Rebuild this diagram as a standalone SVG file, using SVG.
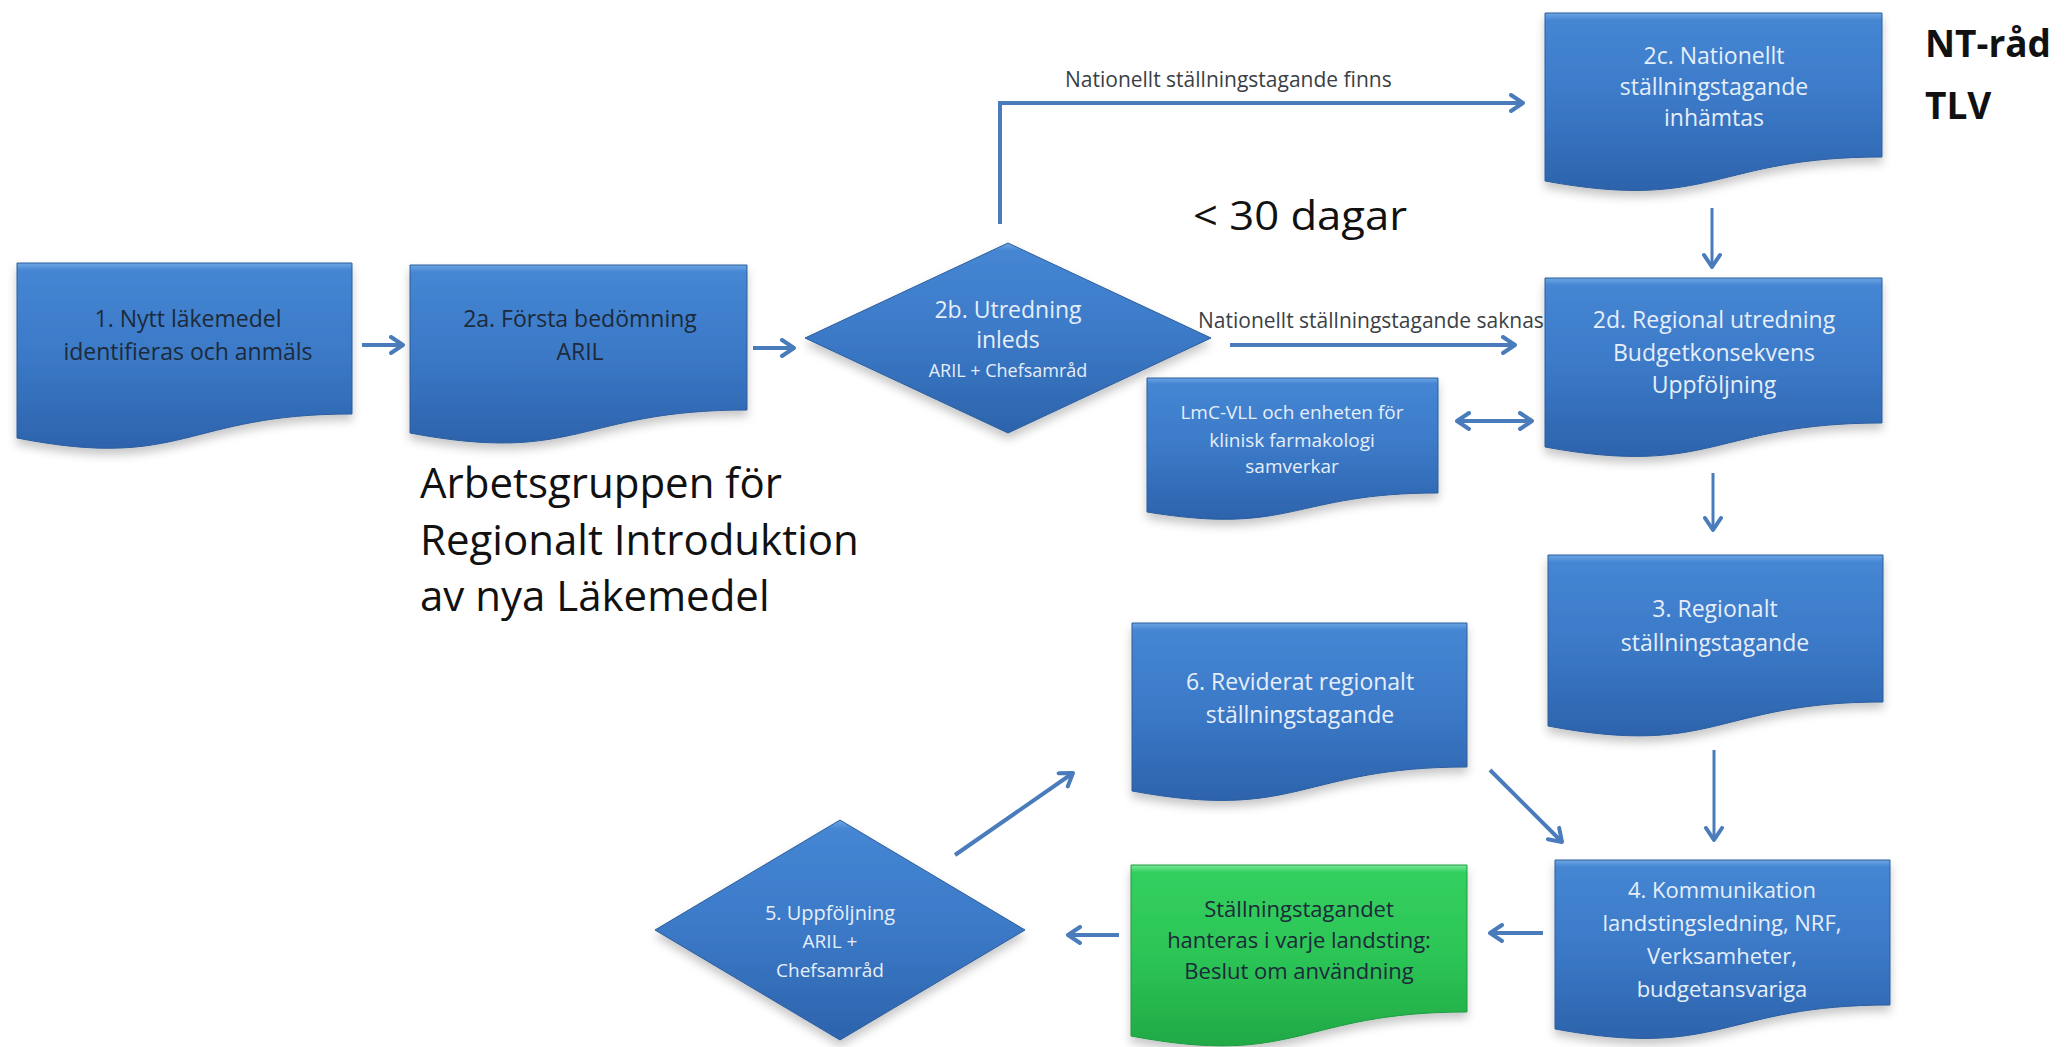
<svg xmlns="http://www.w3.org/2000/svg" width="2065" height="1047" viewBox="0 0 2065 1047">
<defs>
  <linearGradient id="gBlue" x1="0" y1="0" x2="0" y2="1">
    <stop offset="0" stop-color="#6fa6e4"/>
    <stop offset="0.04" stop-color="#4586d3"/>
    <stop offset="0.5" stop-color="#3b79c7"/>
    <stop offset="1" stop-color="#2d63ac"/>
  </linearGradient>
  <linearGradient id="gGreen" x1="0" y1="0" x2="0" y2="1">
    <stop offset="0" stop-color="#7be89c"/>
    <stop offset="0.04" stop-color="#33cf5f"/>
    <stop offset="0.5" stop-color="#2cc556"/>
    <stop offset="1" stop-color="#21a946"/>
  </linearGradient>
  <filter id="sh" x="-10%" y="-10%" width="120%" height="130%">
    <feDropShadow dx="0" dy="6" stdDeviation="5" flood-color="#000" flood-opacity="0.22"/>
  </filter>
  <marker id="ah" viewBox="0 0 20 20" refX="17" refY="10" markerWidth="20" markerHeight="20" markerUnits="userSpaceOnUse" orient="auto-start-reverse">
    <path d="M5,2 L17,10 L5,18" fill="none" stroke="#4a7cbc" stroke-width="4" stroke-linecap="round" stroke-linejoin="round"/>
  </marker>
  <style>
    .doc{fill:url(#gBlue);stroke:#2c5d9c;stroke-width:1;filter:url(#sh)}
    .docg{fill:url(#gGreen);stroke:#1f9a40;stroke-width:1;filter:url(#sh)}
    .lt{font-family:"Open Sans","Liberation Sans",sans-serif;fill:#e6eef9;text-anchor:middle}
    .dk{font-family:"Open Sans","Liberation Sans",sans-serif;fill:#1c2a3a;text-anchor:middle}
    .lbl{font-family:"Open Sans","Liberation Sans",sans-serif;fill:#3a3f46;font-size:21px}
    .big{font-family:"Open Sans","Liberation Sans",sans-serif;fill:#111;font-size:42px}
    .bold{font-family:"Open Sans","Liberation Sans",sans-serif;fill:#111;font-size:37px;font-weight:bold}
    .con{fill:none;stroke:#4a7cbc;stroke-width:4;marker-end:url(#ah)}
  </style>
</defs>
<rect width="2065" height="1047" fill="#ffffff"/>

<g id="connectors">
  <line class="con" x1="362" y1="345" x2="403" y2="345"/>
  <line class="con" x1="753" y1="348" x2="794" y2="348"/>
  <polyline class="con" points="1000,224 1000,103 1523,103"/>
  <line class="con" x1="1230" y1="345" x2="1515" y2="345"/>
  <line class="con" x1="1457" y1="421" x2="1532" y2="421" style="marker-start:url(#ah)"/>
  <line class="con" x1="1712" y1="208" x2="1712" y2="267" style="stroke-width:3"/>
  <line class="con" x1="1713" y1="473" x2="1713" y2="530" style="stroke-width:3"/>
  <line class="con" x1="1714" y1="750" x2="1714" y2="840" style="stroke-width:3"/>
  <line class="con" x1="1490" y1="770" x2="1562" y2="842"/>
  <line class="con" x1="1543" y1="933" x2="1490" y2="933"/>
  <line class="con" x1="1119" y1="935" x2="1068" y2="935"/>
  <line class="con" x1="955" y1="855" x2="1073" y2="773"/>
</g>

<g id="n1">
  <path class="doc" d="M17,263 H352 V414 C184.5,414 184.5,471 17,438 Z"/>
  <text class="dk" font-size="23"><tspan x="188" y="327">1. Nytt  läkemedel</tspan><tspan x="188" y="360">identifieras och anmäls</tspan></text>
</g>
<g id="n2a">
  <path class="doc" d="M410,265 H747 V410 C578.5,410 578.5,465 410,433 Z"/>
  <text class="dk" font-size="23"><tspan x="580" y="327">2a. Första bedömning</tspan><tspan x="580" y="360">ARIL</tspan></text>
</g>
<g id="n2b">
  <polygon class="doc" points="1008,243 1211,338 1008,433 805,338"/>
  <text class="lt" font-size="23"><tspan x="1008" y="318">2b. Utredning</tspan><tspan x="1008" y="348">inleds</tspan></text>
  <text class="lt" font-size="18" x="1008" y="377">ARIL + Chefsamråd</text>
</g>
<g id="n2c">
  <path class="doc" d="M1545,13 H1882 V157 C1713.5,157 1713.5,212 1545,181 Z"/>
  <text class="lt" font-size="23"><tspan x="1714" y="64">2c. Nationellt</tspan><tspan x="1714" y="95">ställningstagande</tspan><tspan x="1714" y="126">inhämtas</tspan></text>
</g>
<g id="n2d">
  <path class="doc" d="M1545,278 H1882 V423 C1713.5,423 1713.5,478 1545,447 Z"/>
  <text class="lt" font-size="23"><tspan x="1714" y="328">2d. Regional utredning</tspan><tspan x="1714" y="361">Budgetkonsekvens</tspan><tspan x="1714" y="393">Uppföljning</tspan></text>
</g>
<g id="nLmC">
  <path class="doc" d="M1147,378 H1438 V493 C1292.5,493 1292.5,536 1147,512 Z"/>
  <text class="lt" font-size="19"><tspan x="1292" y="419">LmC-VLL och  enheten för</tspan><tspan x="1292" y="447">klinisk farmakologi</tspan><tspan x="1292" y="473">samverkar</tspan></text>
</g>
<g id="n3">
  <path class="doc" d="M1548,555 H1883 V702 C1715.5,702 1715.5,758 1548,726 Z"/>
  <text class="lt" font-size="23"><tspan x="1715" y="617">3. Regionalt</tspan><tspan x="1715" y="651">ställningstagande</tspan></text>
</g>
<g id="n4">
  <path class="doc" d="M1555,860 H1890 V1005 C1722.5,1005 1722.5,1060 1555,1029 Z"/>
  <text class="lt" font-size="22"><tspan x="1722" y="898">4. Kommunikation</tspan><tspan x="1722" y="931">landstingsledning, NRF,</tspan><tspan x="1722" y="964">Verksamheter,</tspan><tspan x="1722" y="997">budgetansvariga</tspan></text>
</g>
<g id="n6">
  <path class="doc" d="M1132,623 H1467 V767 C1299.5,767 1299.5,822 1132,791 Z"/>
  <text class="lt" font-size="23"><tspan x="1300" y="690">6. Reviderat regionalt</tspan><tspan x="1300" y="723">ställningstagande</tspan></text>
</g>
<g id="nGreen">
  <path class="docg" d="M1131,865 H1467 V1012 C1299,1012 1299,1068 1131,1036 Z"/>
  <text class="dk" font-size="22"><tspan x="1299" y="917">Ställningstagandet</tspan><tspan x="1299" y="948">hanteras i varje landsting:</tspan><tspan x="1299" y="979">Beslut om användning</tspan></text>
</g>
<g id="n5">
  <polygon class="doc" points="840,820 1025,930 840,1040 655,930"/>
  <text class="lt" font-size="20" x="830" y="920">5. Uppföljning</text>
  <text class="lt" font-size="19"><tspan x="830" y="948">ARIL +</tspan><tspan x="830" y="977">Chefsamråd</tspan></text>
</g>

<g id="labels">
  <text class="lbl" x="1065" y="87">Nationellt ställningstagande finns</text>
  <text class="lbl" x="1198" y="328">Nationellt ställningstagande saknas</text>
  <text font-family="Open Sans, Liberation Sans, sans-serif" font-size="40" fill="#111" x="1193" y="230" textLength="214" lengthAdjust="spacingAndGlyphs">&lt; 30 dagar</text>
  <text class="big"><tspan x="420" y="498">Arbetsgruppen för</tspan><tspan x="420" y="555">Regionalt Introduktion</tspan><tspan x="420" y="611">av nya Läkemedel</tspan></text>
  <text class="bold"><tspan x="1925" y="57">NT-råd</tspan><tspan x="1925" y="119">TLV</tspan></text>
</g>
</svg>
